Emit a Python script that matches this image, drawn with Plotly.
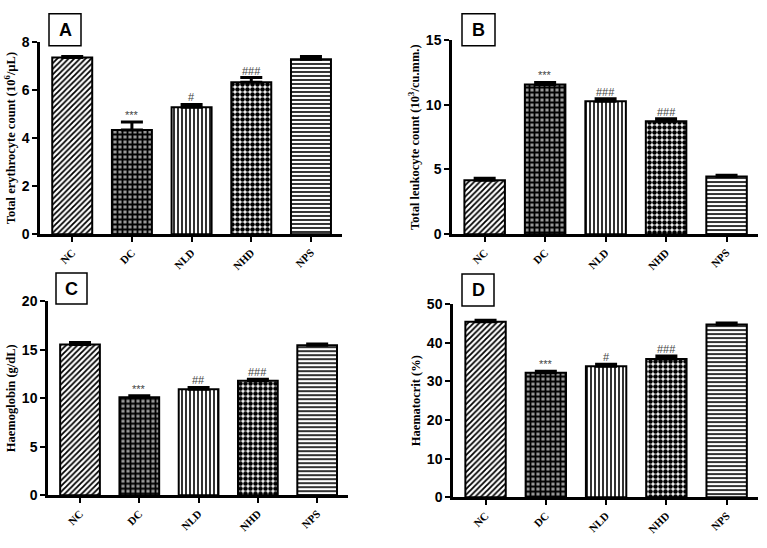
import plotly.graph_objects as go

categories = ["NC", "DC", "NLD", "NHD", "NPS"]

rbc_mean = [7.35, 4.34, 5.28, 6.32, 7.28]
rbc_err = [0.05, 0.33, 0.12, 0.20, 0.12]
rbc_sig = ["", "***", "#", "###", ""]

wbc_mean = [4.17, 11.57, 10.27, 8.72, 4.45]
wbc_err = [0.15, 0.15, 0.20, 0.20, 0.10]
wbc_sig = ["", "***", "###", "###", ""]

hb_mean = [15.55, 10.10, 10.94, 11.80, 15.45]
hb_err = [0.20, 0.15, 0.18, 0.15, 0.15]
hb_sig = ["", "***", "##", "###", ""]

hct_mean = [45.4, 32.2, 33.9, 35.8, 44.7]
hct_err = [0.4, 0.45, 0.55, 0.75, 0.4]
hct_sig = ["", "***", "#", "###", ""]

panel_letters = ["A", "B", "C", "D"]
y_titles = ["Total erythrocyte count (10<sup>6</sup>/µL)",
            "Total leukocyte count (10<sup>3</sup>/cu.mm.)",
            "Haemoglobin (g/dL)",
            "Haematocrit (%)"]
y_maxes = [8, 15, 20, 50]
y_dtick = [2, 5, 5, 10]

W, H = 767, 548
panels_px = [(40, 342, 35, 233), (452, 758, 33, 233), (48, 348, 302, 502), (453, 758, 305, 504)]
boxes_px = [(49, 81, 6, 39), (462, 495, 6, 39), (56, 87, 273, 305), (462, 494, 274, 307)]

pat_shape = ["/", "+", "|", ".", "-"]
pat_fg = ["black", "black", "black", "black", "black"]
pat_bg = ["white", "#999999", "white", "white", "white"]
pat_size = [4, 5, 4, 5, 4]
pat_sol = [0.45, 0.6, 0.4, 0.65, 0.4]

data = [(rbc_mean, rbc_err, rbc_sig), (wbc_mean, wbc_err, wbc_sig),
        (hb_mean, hb_err, hb_sig), (hct_mean, hct_err, hct_sig)]

fig = go.Figure()
serif = "Liberation Serif, Times New Roman, serif"
sans = "Liberation Sans, Arial, sans-serif"

for i, (means, errs, sigs) in enumerate(data):
    n = "" if i == 0 else str(i + 1)
    xl, xr, yt, yb = panels_px[i]
    fig.add_trace(go.Bar(
        x=categories, y=means,
        xaxis="x" + n, yaxis="y" + n,
        width=0.67,
        marker=dict(color="white", line=dict(color="black", width=2),
                    pattern=dict(shape=pat_shape, fgcolor=pat_fg, bgcolor=pat_bg,
                                 size=pat_size, solidity=pat_sol, fillmode="replace")),
        error_y=dict(type="data", symmetric=False, array=errs,
                     arrayminus=[0] * len(errs), color="black", thickness=3, width=11),
        showlegend=False,
    ))
    fig.update_layout(**{
        "xaxis" + n: dict(domain=[xl / W, xr / W], anchor="y" + n,
                          range=[-0.54, 4.52], showline=True, linewidth=2.5,
                          linecolor="black", ticks="outside", ticklen=5, tickwidth=2,
                          tickcolor="black", tickangle=-45,
                          tickfont=dict(family=serif, size=11, color="black", weight="bold"),
                          showgrid=False, zeroline=False, fixedrange=True),
        "yaxis" + n: dict(domain=[1 - yb / H, 1 - yt / H], anchor="x" + n,
                          range=[0, y_maxes[i]], dtick=y_dtick[i], showline=True,
                          linewidth=2.5, linecolor="black", ticks="outside", ticklen=5,
                          tickwidth=2, tickcolor="black",
                          tickfont=dict(family=sans, size=14, color="black", weight="bold"),
                          title=dict(text=y_titles[i], standoff=4,
                                     font=dict(family=serif, size=12.5, color="black", weight="bold")),
                          showgrid=False, zeroline=False, fixedrange=True),
    })
    for c, m, e, s in zip(categories, means, errs, sigs):
        if s:
            fig.add_annotation(x=c, y=m + e, xref="x" + n, yref="y" + n, text=s,
                               showarrow=False, yanchor="bottom", yshift=-1,
                               font=dict(family=sans, size=11, color="#444444"))
    bx0, bx1, by0, by1 = boxes_px[i]
    fig.add_shape(type="rect", xref="paper", yref="paper",
                  x0=bx0 / W, x1=bx1 / W, y0=1 - by1 / H, y1=1 - by0 / H,
                  line=dict(color="black", width=1.5), fillcolor="white")
    fig.add_annotation(xref="paper", yref="paper", x=(bx0 + bx1) / 2 / W,
                       y=1 - (by0 + by1) / 2 / H, text=panel_letters[i], showarrow=False,
                       xanchor="center", yanchor="middle",
                       font=dict(family=sans, size=18, color="black", weight="bold"))

fig.update_layout(width=W, height=H, margin=dict(l=0, r=0, t=0, b=0),
                  paper_bgcolor="white", plot_bgcolor="white", bargap=0.33)

fig.write_html("out.html")
